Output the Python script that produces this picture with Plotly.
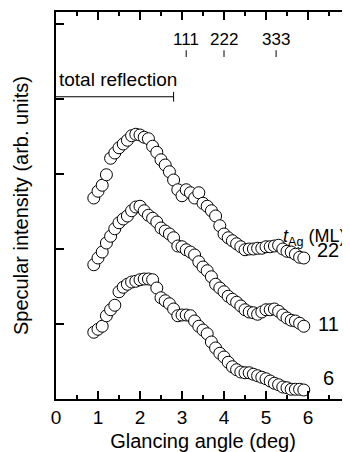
import plotly.graph_objects as go

angle = [round(0.9 + 0.1 * i, 1) for i in range(51)]

i22 = [2.68, 2.77, 2.85, 2.99, 3.21, 3.28, 3.35, 3.40, 3.45, 3.51,
       3.53, 3.52, 3.49, 3.47, 3.37, 3.29, 3.19, 3.12, 3.03, 2.92,
       2.79, 2.71, 2.79, 2.75, 2.68, 2.75, 2.61, 2.57, 2.51, 2.44,
       2.31, 2.20, 2.15, 2.11, 2.07, 2.03, 1.99, 2.00, 2.00, 2.01,
       2.01, 2.03, 2.03, 2.04, 2.05, 2.00, 1.97, 1.96, 1.93, 1.89, 1.88]

i11 = [1.79, 1.88, 1.96, 2.08, 2.17, 2.27, 2.35, 2.40, 2.44, 2.51,
       2.56, 2.57, 2.51, 2.45, 2.41, 2.36, 2.28, 2.24, 2.20, 2.15,
       2.04, 2.03, 1.99, 1.96, 1.92, 1.83, 1.76, 1.71, 1.63, 1.53,
       1.48, 1.43, 1.37, 1.33, 1.29, 1.24, 1.19, 1.16, 1.15, 1.13,
       1.16, 1.19, 1.19, 1.20, 1.17, 1.12, 1.08, 1.05, 1.04, 1.01, 0.97]

i6 = [0.89, 0.93, 0.97, 1.11, 1.19, 1.25, 1.43, 1.49, 1.53, 1.56,
      1.57, 1.59, 1.60, 1.60, 1.59, 1.48, 1.35, 1.31, 1.27, 1.20,
      1.11, 1.12, 1.12, 1.11, 1.04, 0.97, 0.92, 0.87, 0.76, 0.68,
      0.61, 0.56, 0.49, 0.43, 0.39, 0.36, 0.35, 0.35, 0.33, 0.31,
      0.29, 0.27, 0.24, 0.21, 0.19, 0.16, 0.15, 0.13, 0.13, 0.13, 0.12]

series_labels = ["22", "11", "6"]
label_y = [1.99, 1.0, 0.28]

refl_labels = ["111", "222", "333"]
refl_pos = [3.1, 4.0, 5.24]
total_refl_end = 2.8
total_refl_y = 4.03

x_tickvals = [0, 1, 2, 3, 4, 5, 6, 7]
x_minorvals = [0.5, 1.5, 2.5, 3.5, 4.5, 5.5, 6.5]
y_ticks = [0, 1, 2, 3, 4, 5]
X_RANGE = [0, 7]
Y_RANGE = [0, 5.16]

FONT = "Liberation Sans, Arial, sans-serif"

fig = go.Figure()
for ys in (i22, i11, i6):
    fig.add_trace(go.Scatter(
        x=angle, y=ys, mode="markers",
        marker=dict(symbol="circle", size=12, color="white",
                    line=dict(color="black", width=1)),
        showlegend=False, hoverinfo="skip"))

shapes = []
ann = []
shapes.append(dict(type="line", xref="x", yref="y", x0=0, x1=total_refl_end,
                   y0=total_refl_y, y1=total_refl_y, line=dict(color="black", width=1)))
shapes.append(dict(type="line", xref="x", yref="y", x0=total_refl_end, x1=total_refl_end,
                   y0=total_refl_y - 0.065, y1=total_refl_y + 0.065, line=dict(color="black", width=1)))
ann.append(dict(x=0.02, y=total_refl_y + 0.06, xref="x", yref="y", text="total reflection",
                showarrow=False, xanchor="left", yanchor="bottom",
                font=dict(size=19, family=FONT, color="black")))
for lab, p in zip(refl_labels, refl_pos):
    shapes.append(dict(type="line", xref="x", yref="y", x0=p, x1=p, y0=4.56, y1=4.65,
                       line=dict(color="black", width=1)))
    ann.append(dict(x=p, y=4.64, xref="x", yref="y", text=lab, showarrow=False,
                    xanchor="center", yanchor="bottom",
                    font=dict(size=17, family=FONT, color="black")))
for lab, yv in zip(series_labels, label_y):
    ann.append(dict(x=6.48, y=yv, xref="x", yref="y", text=lab, showarrow=False,
                    xanchor="center", yanchor="middle",
                    font=dict(size=20, family=FONT, color="black")))
ann.append(dict(x=6.14, y=2.16, xref="x", yref="y",
                text="<i>t</i><sub>Ag</sub> (ML)", showarrow=False,
                xanchor="center", yanchor="middle",
                font=dict(size=18, family=FONT, color="black")))

fig.update_layout(
    width=350, height=452,
    margin=dict(l=48, r=8, t=4, b=61, autoexpand=False),
    paper_bgcolor="white", plot_bgcolor="white",
    font=dict(family=FONT, size=19, color="black"),
    shapes=shapes, annotations=ann,
    xaxis=dict(range=X_RANGE, tickmode="array", tickvals=x_tickvals,
               ticks="inside", ticklen=8, tickwidth=2, tickcolor="black",
               minor=dict(ticks="inside", ticklen=4, tickwidth=2, tickcolor="black",
                          tickvals=x_minorvals),
               showline=True, linecolor="black", linewidth=1.5, mirror="allticks",
               layer="above traces",
               showgrid=False, zeroline=False, automargin=False,
               tickfont=dict(size=19, family=FONT),
               title=dict(text="Glancing angle (deg)", font=dict(size=20, family=FONT), standoff=7)),
    yaxis=dict(range=Y_RANGE, tickmode="array", tickvals=y_ticks,
               ticks="inside", ticklen=8, tickwidth=2, tickcolor="black",
               showticklabels=False,
               showline=True, linecolor="black", linewidth=1.5, mirror="allticks",
               layer="above traces",
               showgrid=False, zeroline=False, automargin=False,
               title=dict(text="Specular intensity (arb. units)", font=dict(size=20, family=FONT), standoff=20)),
)

fig.write_html("out.html")
